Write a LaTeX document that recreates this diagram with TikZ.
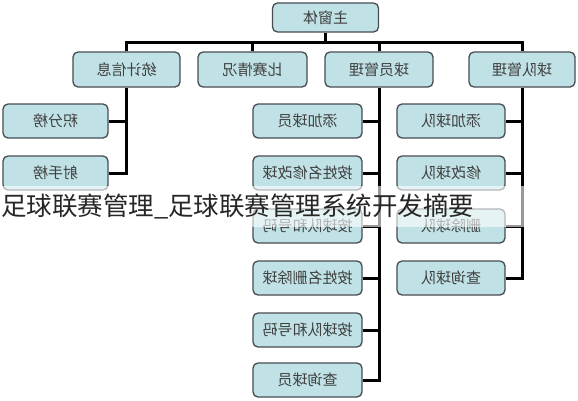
\documentclass[tikz,border=0pt]{standalone}
\usepackage{fontspec}
\newfontfamily\cjk{Noto Sans CJK SC}
\definecolor{cajafondo}{RGB}{192,225,229}
\definecolor{cajaborde}{RGB}{70,76,80}
\tikzset{
  caja/.style={draw=cajaborde, line width=1.3pt, fill=cajafondo, rounded corners=5pt,
    minimum width=107pt, minimum height=34pt, inner sep=0pt,
    font=\cjk\fontsize{15}{15}\selectfont, text=black!75},
  linea/.style={line width=3pt, black}
}
\newcommand{\espejo}[1]{\reflectbox{#1}}
\begin{document}
\begin{tikzpicture}[x=1pt, y=-1pt]
      \useasboundingbox (0,0) rectangle (578,400);

      % caja principal
      \node[caja, minimum width=106pt, minimum height=29pt] (main) at (325.5,17.5) {\espejo{主窗体}};

      % primer nivel
      \node[caja, minimum height=35pt] (stat) at (126.5,69.5) {\espejo{统计信息}};
      \node[caja, minimum height=35pt, minimum width=109pt] (match) at (252.5,69.5) {\espejo{比赛情况}};
      \node[caja, minimum height=35pt, minimum width=108pt] (player) at (379,69.5) {\espejo{球员管理}};
      \node[caja, minimum height=35pt, minimum width=106pt] (team) at (522,69.5) {\espejo{球队管理}};

      % bus superior
      \coordinate (bus) at (325.5,42);
      \draw[linea] (main.south) -- (bus);
      \draw[linea] (stat.north) |- (bus) -| (team.north);
      \draw[linea] (match.north) -- (match.north |- bus);
      \draw[linea] (player.north) -- (player.north |- bus);

      % hijos de estadisticas
      \node[caja, minimum width=105pt] (s1) at (55.5,121) {\espejo{积分榜}};
      \node[caja, minimum width=105pt] (s2) at (55.5,173) {\espejo{射手榜}};
      \draw[linea] (stat.south) |- (s2.east);
      \draw[linea] (s1.east) -- (s1.east -| stat.south);

      % hijos de jugadores
      \foreach \n/\y/\t in {p1/121/添加球员, p2/173/按姓名修改球, p3/226/按球队和号码,
                            p4/278/按姓名删除球, p5/330/按球队和号码, p6/380/查询球员}{
        \node[caja, minimum width=109pt] (\n) at (307.5,\y) {\espejo{\t}};
        \draw[linea] (\n.east) -- (\n.east -| player.south);
      }
      \draw[linea] (player.south) |- (p6.east);

      % hijos de equipos
      \foreach \n/\y/\t in {t1/121/添加球队, t2/173/修改球队, t3/226/删除球队, t4/278/查询球队}{
        \node[caja, minimum width=108pt] (\n) at (451,\y) {\espejo{\t}};
        \draw[linea] (\n.east) -- (\n.east -| team.south);
      }
      \draw[linea] (team.south) |- (t4.east);

      % franja y titulo superpuesto
      \fill[white, opacity=0.6] (0,186) rectangle (526,227);
      \node[anchor=west, inner sep=0pt, font=\cjk\fontsize{25.5}{25.5}\selectfont, text=black!85] (titulo) at (1,206) {足球联赛管理\_足球联赛管理系统开发摘要};

    \end{tikzpicture}
\end{document}
